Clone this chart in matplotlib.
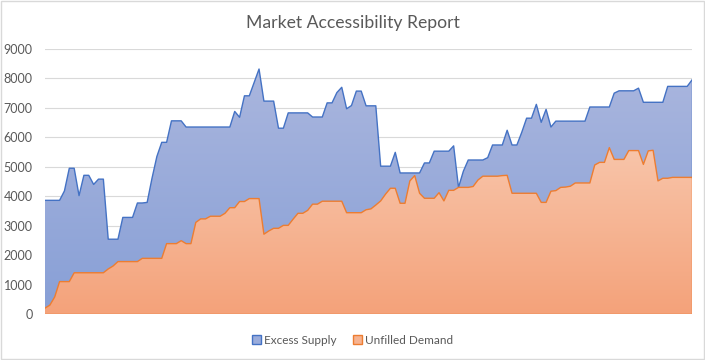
import numpy as np
import matplotlib
matplotlib.use("Agg")
import matplotlib.pyplot as plt
from matplotlib.colors import LinearSegmentedColormap
from matplotlib.patches import Patch, Rectangle

plt.rcParams['font.family'] = ['Lato', 'DejaVu Sans']

# Stacked top of the blue area (demand + excess supply)
excess_supply_top = [
    3860, 3860, 3860, 3860, 4180, 4950, 4950, 4020, 4710, 4710,
    4400, 4580, 4580, 2540, 2540, 2540, 3280, 3280, 3280, 3770,
    3770, 3790, 4610, 5350, 5830, 5830, 6560, 6560, 6560, 6350,
    6350, 6350, 6350, 6350, 6350, 6350, 6350, 6350, 6350, 6880,
    6680, 7410, 7410, 7860, 8320, 7230, 7230, 7230, 6310, 6310,
    6830, 6830, 6830, 6830, 6830, 6690, 6690, 6690, 7170, 7170,
    7520, 7700, 6970, 7080, 7570, 7570, 7070, 7070, 7070, 5020,
    5020, 5020, 5490, 4790, 4790, 4790, 4790, 4790, 5130, 5130,
    5530, 5530, 5530, 5530, 5710, 4300, 4850, 5230, 5230, 5230,
    5230, 5310, 5740, 5740, 5740, 6240, 5740, 5740, 6170, 6650,
    6650, 7120, 6510, 6950, 6350, 6550, 6550, 6550, 6550, 6550,
    6550, 6550, 7030, 7030, 7030, 7030, 7030, 7500, 7580, 7580,
    7580, 7580, 7670, 7190, 7190, 7190, 7190, 7190, 7730, 7730,
    7730, 7730, 7730, 7950,
]

unfilled_demand = [
    200, 300, 580, 1100, 1100, 1100, 1400, 1400, 1400, 1400,
    1400, 1400, 1400, 1530, 1630, 1780, 1780, 1780, 1780, 1780,
    1890, 1890, 1890, 1890, 1890, 2390, 2390, 2390, 2490, 2390,
    2390, 3110, 3230, 3230, 3320, 3320, 3320, 3420, 3610, 3610,
    3820, 3820, 3920, 3920, 3920, 2710, 2820, 2910, 2910, 3010,
    3010, 3220, 3420, 3420, 3520, 3730, 3730, 3830, 3830, 3830,
    3830, 3830, 3440, 3440, 3440, 3440, 3540, 3570, 3700, 3840,
    4070, 4270, 4270, 3760, 3760, 4520, 4700, 4100, 3930, 3930,
    3930, 4120, 3840, 4200, 4200, 4300, 4300, 4300, 4330, 4550,
    4680, 4680, 4680, 4680, 4700, 4710, 4100, 4100, 4100, 4100,
    4100, 4100, 3790, 3790, 4170, 4190, 4300, 4310, 4340, 4450,
    4450, 4450, 4450, 5060, 5150, 5150, 5650, 5250, 5250, 5250,
    5550, 5550, 5550, 5080, 5540, 5560, 4520, 4610, 4610, 4640,
    4640, 4640, 4640, 4640,
]

series_names = ['Excess Supply', 'Unfilled Demand']
y_ticks = list(range(0, 9001, 1000))

x = np.arange(len(unfilled_demand))
top = np.array(excess_supply_top)
dem = np.array(unfilled_demand)

fig = plt.figure(figsize=(7.05, 3.6), dpi=100)
ax = fig.add_axes([0.0638, 0.1278, 0.9178, 0.7361])


def gradient_area(ax, x, y, c_top, c_bot, z):
    # fill 0..y with a vertical gradient clipped to the area polygon
    poly, = ax.fill(np.r_[x[0], x, x[-1]], np.r_[0, y, 0],
                    facecolor='none', edgecolor='none', zorder=z)
    cmap = LinearSegmentedColormap.from_list('g', [c_bot, c_top])
    grad = np.linspace(0, 1, 256).reshape(-1, 1)
    im = ax.imshow(grad, cmap=cmap, aspect='auto', origin='lower',
                   extent=[x[0], x[-1], 0, y.max()], zorder=z,
                   interpolation='bilinear')
    im.set_clip_path(poly)


gradient_area(ax, x, top, '#aab6de', '#879fd6', 2)
gradient_area(ax, x, dem, '#f8c5aa', '#f4a27a', 3)
ax.plot(x, top, color='#4472c4', lw=1.0, zorder=4)
ax.plot(x, dem, color='#ed7d31', lw=1.0, zorder=5)
ax.plot([x[-1], x[-1]], [dem[-1], top[-1]], color='#4472c4', lw=1.0, zorder=4)
ax.plot([x[-1], x[-1]], [0, dem[-1]], color='#ed7d31', lw=1.0, zorder=5)
ax.plot([x[0], x[-1]], [0, 0], color='#ed7d31', lw=1.0, zorder=5)

ax.set_xlim(x[0], x[-1])
ax.set_ylim(0, 9000)
ax.set_yticks(y_ticks)
ax.set_xticks([])
ax.grid(axis='y', color='#d9d9d9', lw=0.8, zorder=0)
ax.set_axisbelow(True)
for s in ax.spines.values():
    s.set_visible(False)
ax.tick_params(axis='y', length=0, labelsize=9, labelcolor='#595959', pad=9)

fig.text(0.5, 0.936, 'Market Accessibility Report', ha='center', va='center',
         fontsize=12.7, color='#595959')

handles = [Patch(facecolor='#9aacdb', edgecolor='#4472c4', lw=1.0),
           Patch(facecolor='#f6b391', edgecolor='#ed7d31', lw=1.0)]
fig.legend(handles, series_names, loc='center', bbox_to_anchor=(0.5, 0.055),
           ncol=2, frameon=False, fontsize=8.5, labelcolor='#595959',
           handlelength=0.75, handleheight=0.75, handletextpad=0.25,
           columnspacing=1.4)

fig.patches.append(Rectangle((0.001, 0.002), 0.997, 0.996, transform=fig.transFigure,
                             fill=False, edgecolor='#d9d9d9', lw=1.0))

fig.savefig('out.png', dpi=100)
